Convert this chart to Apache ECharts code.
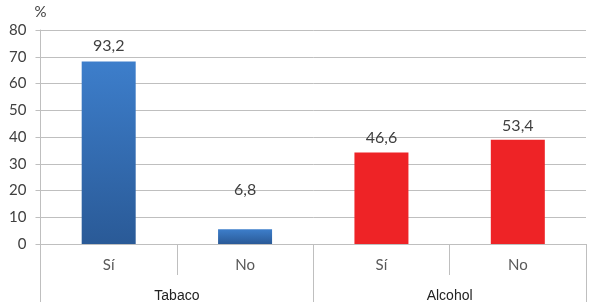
<!DOCTYPE html>
<html>
<head>
<meta charset="utf-8">
<script src="https://cdn.jsdelivr.net/npm/echarts@6/dist/echarts.min.js"></script>
<style>html,body{margin:0;padding:0;background:#fff}#c{width:591px;height:307px}</style>
</head>
<body>
<div id="c"></div>
<script>
var categories = ['Sí', 'No', 'Sí', 'No'];
var groups = ['Tabaco', 'Alcohol'];
var barValues = [68.2, 5.5, 34.2, 39.0];
var valueLabels = ['93,2', '6,8', '46,6', '53,4'];
var yTicks = [0, 10, 20, 30, 40, 50, 60, 70, 80];

var labelDistance = [8, 31, 7, 6];
var blue = new echarts.graphic.LinearGradient(0, 0, 0, 1, [
  {offset: 0, color: '#3d7ecb'}, {offset: 1, color: '#2a5a97'}]);
var red = '#ee2326';
var colors = [blue, blue, red, red];

var chart = echarts.init(document.getElementById('c'));
chart.setOption({
  animation: false,
  grid: {left: 40.5, right: 5, top: 30, bottom: 63},
  xAxis: [{
    type: 'category', data: categories, position: 'bottom', offset: 0,
    axisLine: {show: true, lineStyle: {color: '#bfbfbf'}},
    axisTick: {show: true, interval: 0, length: 31, lineStyle: {color: '#bfbfbf'}},
    axisLabel: {interval: 0, margin: 14, color: '#595959', fontFamily: 'Lato', fontSize: 15}
  }, {
    type: 'category', data: groups, position: 'bottom', offset: 0,
    axisLine: {show: false},
    axisTick: {show: true, interval: 0, length: 58, lineStyle: {color: '#bfbfbf'}},
    axisLabel: {interval: 0, margin: 45, color: '#222', fontFamily: 'Liberation Sans', fontSize: 14}
  }],
  yAxis: {
    type: 'value', min: yTicks[0], max: yTicks[yTicks.length - 1], interval: 10,
    name: '%', nameLocation: 'end', nameGap: 10,
    nameTextStyle: {color: '#404040', fontFamily: 'Lato', fontSize: 15, align: 'center', padding: [0, 0, 0, 0]},
    axisLine: {show: true, lineStyle: {color: '#bfbfbf'}},
    axisTick: {show: true, length: 5, lineStyle: {color: '#bfbfbf'}},
    splitLine: {lineStyle: {color: '#bfbfbf'}},
    axisLabel: {margin: 14, color: '#404040', fontFamily: 'Lato', fontSize: 15}
  },
  series: [{
    type: 'bar', xAxisIndex: 0, barWidth: 54,
    data: barValues.map(function (v, i) {
      return {
        value: v,
        itemStyle: {color: colors[i]},
        label: {show: true, position: 'top', distance: labelDistance[i],
          formatter: valueLabels[i], color: '#404040', fontFamily: 'Lato', fontSize: 16}
      };
    })
  }]
});
</script>
</body>
</html>
